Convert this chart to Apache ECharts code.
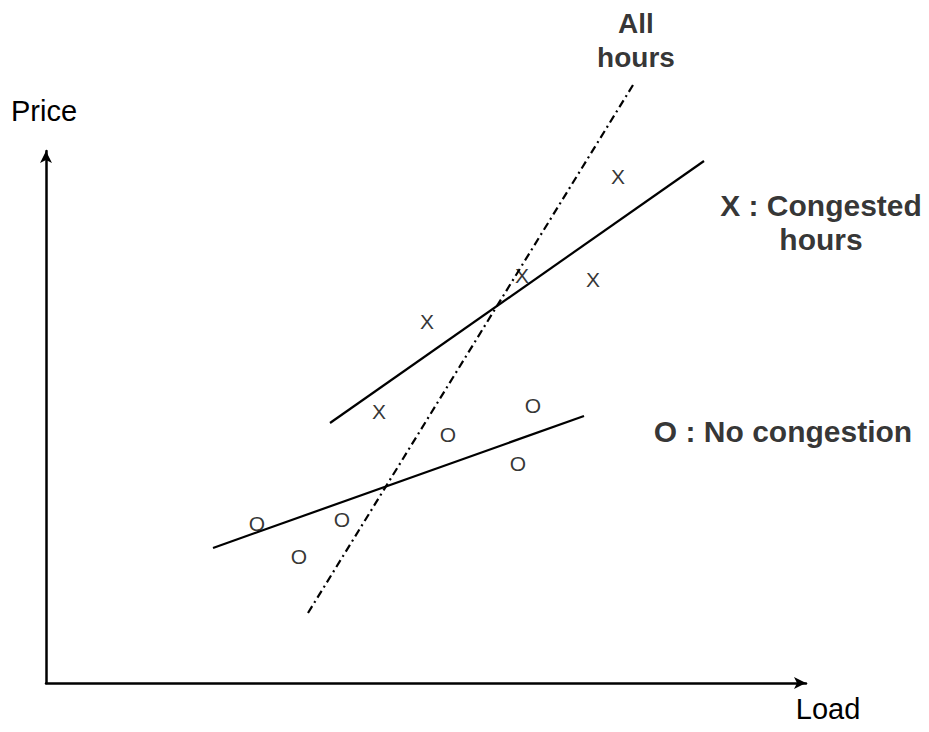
<!DOCTYPE html>
<html>
<head>
<meta charset="utf-8">
<script src="https://cdn.jsdelivr.net/npm/echarts@6/dist/echarts.min.js"></script>
<style>
html,body{margin:0;padding:0;background:#fff;}
#chart{width:929px;height:732px;}
</style>
</head>
<body>
<div id="chart"></div>
<script>
// Data values (Load, Price) in arbitrary units
const congestedPoints = [[572,507],[476,408],[547,404],[381,362],[333,272]];
const noCongestionPoints = [[487,278],[402,249],[472,220],[296,164],[211,160],[253,127]];
const congestedFit = [[284,260],[658,522]];
const noCongestionFit = [[167,135],[538,267]];
const allHoursFit = [[262,70],[587,598]];
const annotations = [
  {value:[590,643], text:'All\nhours', size:28},
  {value:[775,461], text:'X : Congested\nhours', size:30},
  {value:[737,252], text:'O : No congestion', size:30}
];
const xAxisName = 'Load';
const yAxisName = 'Price';

const FONT = '"Liberation Sans", Arial, sans-serif';
const chart = echarts.init(document.getElementById('chart'), null, {renderer:'svg'});

function markerSeries(data, ch){
  return {
    type:'scatter', data:data, symbolSize:0, clip:false, silent:true,
    itemStyle:{color:'transparent'},
    label:{show:true, position:'inside', formatter:ch, color:'#000', fontSize:21, fontFamily:FONT},
    emphasis:{disabled:true}
  };
}
function fitSeries(data, type){
  return {
    type:'line', data:data, symbol:'none', clip:false, silent:true,
    lineStyle:{color:'#000', width:2.2, type:type},
    emphasis:{disabled:true}
  };
}

chart.setOption({
  animation:false,
  backgroundColor:'#fff',
  grid:{left:46, right:123, top:151, bottom:49, containLabel:false},
  xAxis:{
    type:'value', min:0, max:760,
    name:xAxisName, nameLocation:'end', nameGap:22,
    nameTextStyle:{color:'#000', fontSize:29, fontFamily:FONT, align:'center', verticalAlign:'top', padding:[11,0,0,0]},
    axisLine:{show:true, symbol:['none','arrow'], symbolSize:[9,12], lineStyle:{color:'#000', width:2.5}},
    axisTick:{show:false}, axisLabel:{show:false}, splitLine:{show:false}
  },
  yAxis:{
    type:'value', min:0, max:532,
    name:yAxisName, nameLocation:'end', nameGap:26,
    nameTextStyle:{color:'#000', fontSize:29, fontFamily:FONT, align:'center', padding:[0,4,0,0]},
    axisLine:{show:true, symbol:['none','arrow'], symbolSize:[9,12], lineStyle:{color:'#000', width:2.5}},
    axisTick:{show:false}, axisLabel:{show:false}, splitLine:{show:false}
  },
  series:[
    fitSeries(congestedFit,'solid'),
    fitSeries(noCongestionFit,'solid'),
    fitSeries(allHoursFit,[8,4,2,4]),
    markerSeries(congestedPoints,'X'),
    markerSeries(noCongestionPoints,'O'),
    {
      type:'scatter', symbolSize:0, clip:false, silent:true,
      itemStyle:{color:'transparent'},
      data:annotations.map(a=>({value:a.value, label:{formatter:a.text, fontSize:a.size}})),
      label:{show:true, position:'inside', color:'#000', fontWeight:'bold', fontFamily:FONT, lineHeight:34, align:'center'},
      emphasis:{disabled:true}
    }
  ]
});
</script>
</body>
</html>
